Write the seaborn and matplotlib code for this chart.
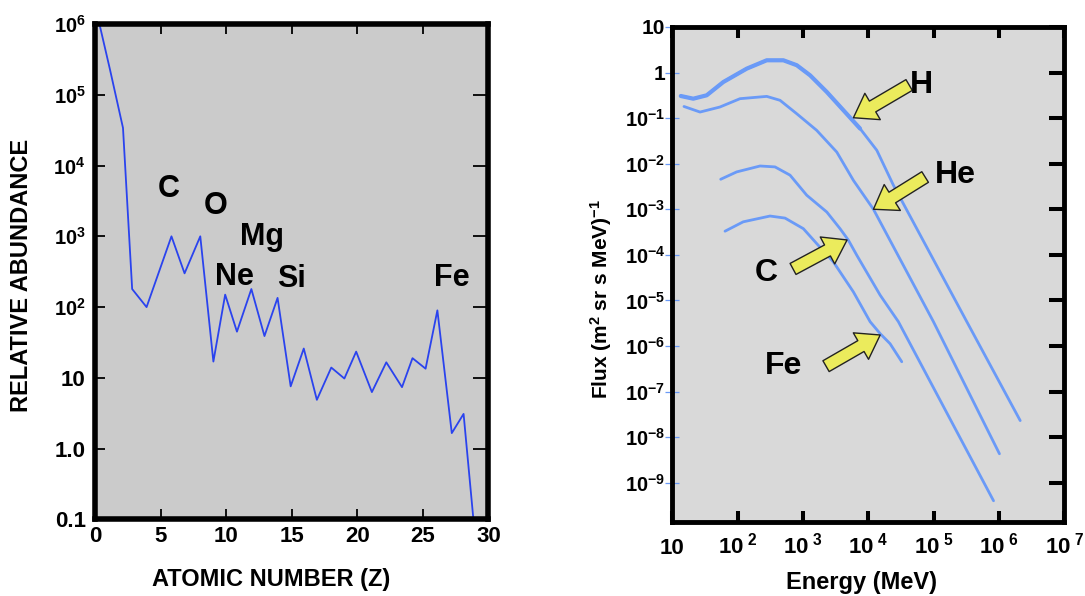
import matplotlib
matplotlib.use("Agg")
import matplotlib.pyplot as plt
from matplotlib.ticker import NullLocator
import pandas as pd
import seaborn as sns

# left panel: relative abundance vs atomic number
atomic_z = [0.3, 1.1, 2.1, 2.8, 3.9, 5.8, 6.8, 8.0, 9.0, 9.9, 10.8, 11.9, 12.9, 13.9, 14.9,
            15.9, 16.9, 18.0, 19.0, 19.9, 21.1, 22.2, 23.4, 24.2, 25.2, 26.1, 27.2, 28.1, 28.9]
abundance = [1e6, 2.3e5, 3.4e4, 180, 100, 1000, 300, 1000, 17, 150, 45, 180, 39, 135, 7.6,
             26, 4.9, 14, 9.8, 23.5, 6.3, 16.6, 7.4, 19, 13.5, 90, 1.66, 3.1, 0.08]
element_names = ["C", "O", "Mg", "Ne", "Si", "Fe"]
element_z = [5.6, 9.2, 12.7, 10.6, 15.0, 27.2]
element_y = [3600, 2100, 750, 203, 193, 200]

z_ticks = [0, 5, 10, 15, 20, 25, 30]
abund_ticks = [1e6, 1e5, 1e4, 1e3, 1e2, 10, 1, 0.1]
abund_labels = [r"$10^{6}$", r"$10^{5}$", r"$10^{4}$", r"$10^{3}$", r"$10^{2}$", "10", "1.0", "0.1"]

# right panel: flux spectra
h_energy = [13.4, 20.8, 33.4, 60, 137, 277, 498, 798, 1277, 2300, 4130, 7430, 13400, 24000, 3.2e5, 2.1e6]
h_flux = [0.306, 0.267, 0.317, 0.62, 1.22, 1.86, 1.86, 1.45, 0.87, 0.375, 0.149, 0.059, 0.0197, 3.4e-3, 3.4e-6, 2.3e-8]
he_energy = [15, 26.4, 53, 108, 277, 443, 797, 1610, 3270, 5880, 11900, 98700, 1.01e6]
he_flux = [0.18, 0.136, 0.175, 0.267, 0.30, 0.246, 0.125, 0.054, 0.018, 4.3e-3, 1.0e-3, 3.4e-6, 4.3e-9]
c_energy = [54.7, 96, 219, 371, 630, 1135, 2300, 3670, 4920, 6620, 15100, 28700, 8.2e5]
c_flux = [4.55e-3, 6.6e-3, 8.9e-3, 8.5e-3, 5.6e-3, 2.03e-3, 8.7e-4, 3.75e-4, 2.1e-4, 9.8e-5, 1.3e-5, 3.4e-6, 4e-10]
fe_energy = [63.7, 121, 311, 528, 1007, 1615, 2900, 5880, 10600, 15100, 21400, 32300]
fe_flux = [3.3e-4, 5.3e-4, 7.1e-4, 6.4e-4, 3.75e-4, 1.76e-4, 7e-5, 1.53e-5, 3.4e-6, 1.86e-6, 1.12e-6, 4.5e-7]

species = ["H", "He", "C", "Fe"]
species_text_xy = [(65400, 0.53), (2.12e5, 5.6e-3), (277, 4.0e-5), (498, 3.7e-7)]
arrow_tips = [(5880, 0.102), (11900, 1.0e-3), (4700, 2.12e-4), (15100, 1.74e-6)]
arrow_tails = [(41900, 0.533), (73600, 5.1e-3), (700, 4.9e-5), (2240, 3.6e-7)]

energy_ticks = [10, 1e2, 1e3, 1e4, 1e5, 1e6, 1e7]
energy_labels = ["10"] + [r"$10^{\ %d}$" % k for k in range(2, 8)]
flux_ticks = [10, 1] + [10.0 ** -k for k in range(1, 10)]
flux_labels = ["10", "1"] + [r"$10^{-%d}$" % k for k in range(1, 10)]

sns.set_style("ticks")
plt.rcParams["font.family"] = ["Liberation Sans", "DejaVu Sans"]
plt.rcParams["font.weight"] = "bold"
plt.rcParams["mathtext.fontset"] = "custom"
plt.rcParams["mathtext.rm"] = "Liberation Sans:bold"
plt.rcParams["mathtext.it"] = "Liberation Sans:bold"
plt.rcParams["mathtext.bf"] = "Liberation Sans:bold"
plt.rcParams["mathtext.default"] = "rm"
for key in ["text.color", "axes.labelcolor", "xtick.color", "ytick.color"]:
    plt.rcParams[key] = "black"

fig = plt.figure(figsize=(10.85, 5.96), dpi=100)
ax1 = fig.add_axes([0.0880, 0.1284, 0.3622, 0.8314])
ax2 = fig.add_axes([0.6198, 0.1242, 0.3613, 0.8305])

# ---- left panel ----
ax1.set_facecolor("#cbcbcb")
df_ab = pd.DataFrame({"Z": atomic_z, "abundance": abundance})
sns.lineplot(data=df_ab, x="Z", y="abundance", ax=ax1, color="#2a43ee", lw=1.3,
             sort=False, estimator=None, legend=False)
ax1.set_yscale("log")
ax1.set_xlim(0, 30)
ax1.set_ylim(0.1, 1e6)
ax1.set_xticks(z_ticks, [str(z) for z in z_ticks])
ax1.set_yticks(abund_ticks, abund_labels)
ax1.yaxis.set_minor_locator(NullLocator())
ax1.tick_params(axis="x", direction="in", top=True, bottom=True, length=7, width=1.3, pad=5, labelsize=16)
ax1.tick_params(axis="y", direction="in", left=True, right=False, length=7, width=1.3, pad=7)
for lab in ax1.get_yticklabels():
    lab.set_fontsize(14.5 if "$" in lab.get_text() else 16)
sec1 = ax1.secondary_yaxis("right", functions=(lambda v: v, lambda v: v))
sec1.set_yticks(abund_ticks)
sec1.yaxis.set_minor_locator(NullLocator())
sec1.tick_params(direction="in", length=11, width=1.3, labelright=False)
sec1.spines["right"].set_visible(False)
for sp in ax1.spines.values():
    sp.set_linewidth(4)
    sp.set_color("black")
    sp.set_zorder(5)

for name, zx, zy in zip(element_names, element_z, element_y):
    ax1.text(zx, zy, name, ha="center", va="baseline", fontsize=22, fontweight="bold")

ax1.set_xlabel("ATOMIC NUMBER (Z)", fontsize=17, fontweight="bold", va="center")
ax1.xaxis.set_label_coords(0.448, -0.122)
ax1.set_ylabel("RELATIVE ABUNDANCE", fontsize=17, fontweight="bold", va="center")
ax1.yaxis.set_label_coords(-0.187, 0.493)

# ---- right panel ----
ax2.set_facecolor("#d9d9d9")
curve_color = "#6a9af7"
sns.lineplot(x=h_energy, y=h_flux, ax=ax2, color=curve_color, lw=2.0, sort=False, estimator=None)
sns.lineplot(x=h_energy[:12], y=h_flux[:12], ax=ax2, color=curve_color, lw=3.0, sort=False, estimator=None)
sns.lineplot(x=he_energy, y=he_flux, ax=ax2, color=curve_color, lw=2.0, sort=False, estimator=None)
sns.lineplot(x=c_energy, y=c_flux, ax=ax2, color=curve_color, lw=2.0, sort=False, estimator=None)
sns.lineplot(x=fe_energy, y=fe_flux, ax=ax2, color=curve_color, lw=2.0, sort=False, estimator=None)
ax2.set_xscale("log")
ax2.set_yscale("log")
ax2.set_xlim(10, 1e7)
ax2.set_ylim(1.37e-10, 10)
ax2.set_xticks(energy_ticks, energy_labels)
ax2.set_yticks(flux_ticks, flux_labels)
ax2.xaxis.set_minor_locator(NullLocator())
ax2.yaxis.set_minor_locator(NullLocator())
ax2.tick_params(axis="x", direction="in", top=True, bottom=True, length=8, width=2.9, pad=23, labelsize=16)
ax2.tick_params(axis="y", direction="inout", left=True, right=False, length=9.4, width=0.9,
                color=curve_color, labelcolor="black", pad=0.5)
for lab in ax2.get_xticklabels():
    lab.set_verticalalignment("baseline")
for lab in ax2.get_yticklabels():
    lab.set_fontsize(14.5 if "$" in lab.get_text() else 15)
sec2 = ax2.secondary_yaxis("right", functions=(lambda v: v, lambda v: v))
sec2.set_yticks(flux_ticks)
sec2.yaxis.set_minor_locator(NullLocator())
sec2.tick_params(direction="in", length=11, width=2.9, labelright=False)
sec2.spines["right"].set_visible(False)
for sp in ax2.spines.values():
    sp.set_linewidth(3.5)
    sp.set_color("black")
    sp.set_zorder(5)

for name, (tx, ty), tip, tail in zip(species, species_text_xy, arrow_tips, arrow_tails):
    ax2.annotate("", xy=tip, xytext=tail,
                 arrowprops=dict(arrowstyle="simple,head_length=0.8,head_width=1.1,tail_width=0.45",
                                 fc="#ebeb5c", ec="#222222", lw=1.0, mutation_scale=20,
                                 shrinkA=0, shrinkB=0))
    ax2.text(tx, ty, name, ha="center", va="center", fontsize=23, fontweight="bold")

ax2.set_xlabel("Energy (MeV)", fontsize=17, fontweight="bold", va="center")
ax2.xaxis.set_label_coords(0.481, -0.123)
ax2.set_ylabel(r"Flux (m$^{2}$ sr s MeV)$^{-1}$", fontsize=15, fontweight="bold", va="center")
ax2.yaxis.set_label_coords(-0.183, 0.45)

fig.savefig("out.png", dpi=100)
